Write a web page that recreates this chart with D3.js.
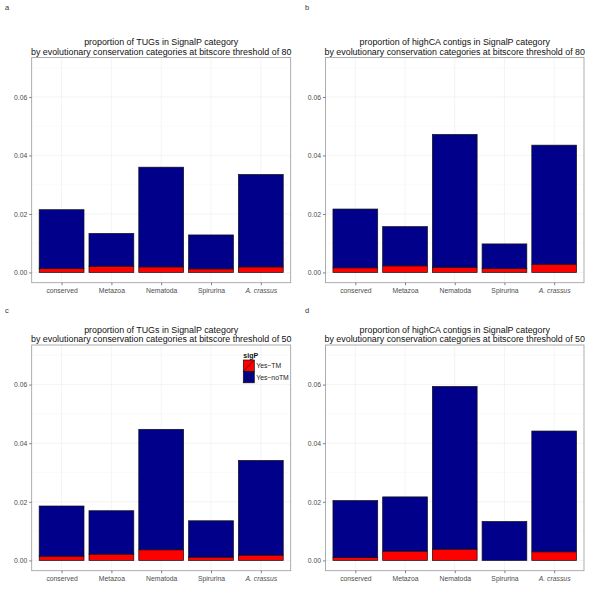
<!DOCTYPE html>
<html><head><meta charset="utf-8">
<script src="https://cdn.jsdelivr.net/npm/d3@7"></script>
<style>body{margin:0;background:#fff}svg{display:block}text{font-family:"Liberation Sans",Arial,sans-serif}</style>
</head><body><svg id="c" width="600" height="600"></svg>
<script>
const categories = ["conserved","Metazoa","Nematoda","Spirurina","A. crassus"];
const seriesNames = ["Yes\u2212TM","Yes\u2212noTM"];
const yTicks = [0, 0.02, 0.04, 0.06];
const yMinor = [0.01, 0.03, 0.05, 0.07];

const yesTM_a   = [0.00136, 0.00215, 0.0019, 0.00123, 0.0019];
const yesNoTM_a = [0.0201, 0.0112, 0.0341, 0.0116, 0.0316];
const yesTM_b   = [0.00159, 0.00227, 0.0018, 0.00136, 0.00283];
const yesNoTM_b = [0.0201, 0.0134, 0.0454, 0.0084, 0.0407];
const yesTM_c   = [0.00147, 0.00216, 0.00363, 0.00113, 0.00182];
const yesNoTM_c = [0.0171, 0.0148, 0.0411, 0.0124, 0.0323];
const yesTM_d   = [0.00102, 0.00318, 0.00386, 0, 0.00295];
const yesNoTM_d = [0.0194, 0.0185, 0.0555, 0.0133, 0.0412];

const titles = [
  ["proportion of TUGs in SignalP category","by evolutionary conservation categories at bitscore threshold of 80"],
  ["proportion of highCA contigs in SignalP category","by evolutionary conservation categories at bitscore threshold of 80"],
  ["proportion of TUGs in SignalP category","by evolutionary conservation categories at bitscore threshold of 50"],
  ["proportion of highCA contigs in SignalP category","by evolutionary conservation categories at bitscore threshold of 50"]
];
const letters = ["a","b","c","d"];
const tmSeries = [yesTM_a, yesTM_b, yesTM_c, yesTM_d];
const noTmSeries = [yesNoTM_a, yesNoTM_b, yesNoTM_c, yesNoTM_d];
const colors = ["#ff0000", "#00008b"];

const boxes = [
  {x0:31.7, x1:290.7, y0:57.5, y1:282.7, lx:5, ly:10},
  {x0:325.5, x1:584, y0:57.5, y1:282.7, lx:305, ly:10},
  {x0:31.7, x1:290.7, y0:345, y1:570.7, lx:5, ly:313},
  {x0:325.5, x1:584, y0:345, y1:570.7, lx:305, ly:313}
];

const svg = d3.select("#c");

boxes.forEach((b, i) => {
  const g = svg.append("g");
  const x = d3.scaleLinear().domain([0.4, categories.length + 0.6]).range([b.x0, b.x1]);
  const y = d3.scaleLinear().domain([-0.0035, 0.0735]).range([b.y1, b.y0]);
  const rows = categories.map((c, k) => ({cat: c, k: k, tm: tmSeries[i][k], notm: noTmSeries[i][k]}));
  const stack = d3.stack().keys(["tm","notm"])(rows);

  g.append("text").attr("x", b.lx).attr("y", b.ly).attr("font-size", 7.5).attr("fill", "#333").text(letters[i]);

  g.selectAll(".mn").data(yMinor).join("line")
    .attr("x1", b.x0).attr("x2", b.x1).attr("y1", d => y(d)).attr("y2", d => y(d))
    .attr("stroke", "#f7f7f7").attr("stroke-width", 0.6);
  g.selectAll(".mj").data(yTicks).join("line")
    .attr("x1", b.x0).attr("x2", b.x1).attr("y1", d => y(d)).attr("y2", d => y(d))
    .attr("stroke", "#ececec").attr("stroke-width", 0.6);
  g.selectAll(".vx").data(categories).join("line")
    .attr("x1", (d, k) => x(k + 1)).attr("x2", (d, k) => x(k + 1)).attr("y1", b.y0).attr("y2", b.y1)
    .attr("stroke", "#ececec").attr("stroke-width", 0.6);

  stack.forEach((s, si) => {
    g.selectAll(".bar" + si).data(s.filter(d => d[1] - d[0] > 0)).join("rect")
      .attr("x", d => x(d.data.k + 1 - 0.45))
      .attr("width", d => x(d.data.k + 1 + 0.45) - x(d.data.k + 1 - 0.45))
      .attr("y", d => y(d[1]))
      .attr("height", d => y(d[0]) - y(d[1]))
      .attr("fill", colors[si]).attr("stroke", "#111").attr("stroke-width", 0.7);
  });

  g.append("rect").attr("x", b.x0).attr("y", b.y0).attr("width", b.x1 - b.x0).attr("height", b.y1 - b.y0)
    .attr("fill", "none").attr("stroke", "#9a9a9a").attr("stroke-width", 0.8);

  const ya = d3.axisLeft(y).tickValues(yTicks).tickFormat(d3.format(".2f")).tickSize(2.5).tickPadding(2);
  const yg = g.append("g").attr("transform", `translate(${b.x0},0)`).call(ya);
  yg.select(".domain").remove();
  yg.selectAll(".tick line").attr("stroke", "#7f7f7f");
  yg.selectAll(".tick text").attr("font-size", 6.8).attr("fill", "#4d4d4d").attr("font-family", "Liberation Sans, Arial, sans-serif");

  const xa = d3.axisBottom(x).tickValues(categories.map((c, k) => k + 1)).tickFormat(v => categories[v - 1]).tickSize(2.5).tickPadding(2.5);
  const xg = g.append("g").attr("transform", `translate(0,${b.y1})`).call(xa);
  xg.select(".domain").remove();
  xg.selectAll(".tick line").attr("stroke", "#7f7f7f");
  xg.selectAll(".tick text").attr("font-size", 6.8).attr("fill", "#4d4d4d").attr("font-family", "Liberation Sans, Arial, sans-serif")
    .attr("font-style", v => categories[v - 1] === "A. crassus" ? "italic" : "normal");

  const cx = (b.x0 + b.x1) / 2;
  g.append("text").attr("x", cx).attr("y", b.y0 - 12.5).attr("text-anchor", "middle").attr("font-size", 8.9).attr("fill", "#111").text(titles[i][0]);
  g.append("text").attr("x", cx).attr("y", b.y0 - 3).attr("text-anchor", "middle").attr("font-size", 8.9).attr("fill", "#111").text(titles[i][1]);

  if (i === 2) {
    const lg = g.append("g").attr("transform", "translate(243.3,357.5)");
    lg.append("text").attr("x", 0).attr("y", 0).attr("font-size", 7).attr("font-weight", "bold").attr("fill", "#111").text("sigP");
    seriesNames.forEach((n, si) => {
      const ky = 2.5 + si * 11.4;
      lg.append("rect").attr("x", 0).attr("y", ky).attr("width", 11).attr("height", 11.4)
        .attr("fill", colors[si]).attr("stroke", "#111").attr("stroke-width", 0.7);
      lg.append("line").attr("x1", 0.5).attr("y1", ky + 11).attr("x2", 10.5).attr("y2", ky + 0.5)
        .attr("stroke", "#111").attr("stroke-width", 0.7);
      lg.append("text").attr("x", 13).attr("y", ky + 8.3).attr("font-size", 6.8).attr("fill", "#222").text(n);
    });
  }
});
</script></body></html>
